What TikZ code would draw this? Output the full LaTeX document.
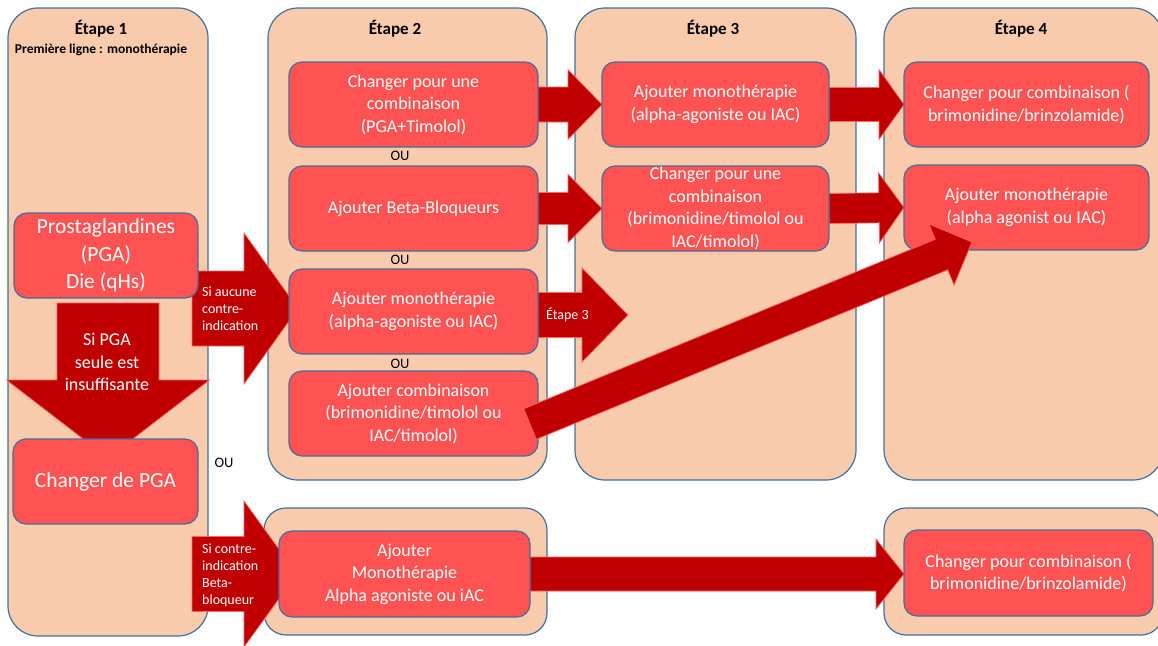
\documentclass[tikz,border=0pt]{standalone}
\usepackage{fontspec}
\setmainfont{Carlito}
\usetikzlibrary{calc}
\definecolor{contfill}{RGB}{248,203,173}
\definecolor{bordblue}{RGB}{65,113,156}
\definecolor{boxred}{RGB}{255,82,82}
\definecolor{arrred}{RGB}{192,0,0}
\definecolor{arredge}{RGB}{255,100,100}
\newcommand\blockarrow[5]{%
  \path #1 coordinate (ba-t) #2 coordinate (ba-h);
  \path ($(ba-h)!#5!(ba-t)$) coordinate (ba-b);
  \draw[barrow] ($(ba-t)!#3!90:(ba-h)$) -- ($(ba-b)!#3!90:(ba-h)$) -- ($(ba-b)!#4!90:(ba-h)$) -- (ba-h) -- ($(ba-b)!#4!-90:(ba-h)$) -- ($(ba-b)!#3!-90:(ba-h)$) -- ($(ba-t)!#3!-90:(ba-h)$) -- cycle;
}
\begin{document}
\begin{tikzpicture}[x=1pt,y=-1pt,
  cont/.style={draw=bordblue,line width=1.2pt,fill=contfill,rounded corners=30pt,inner sep=0pt},
  contb/.style={cont,rounded corners=22pt},
  rbox/.style={draw=bordblue,line width=1.2pt,fill=boxred,rounded corners=13pt,inner sep=0pt,
    text=white,align=center,font=\fontsize{18}{22.5}\selectfont},
  bigbox/.style={rbox,font=\fontsize{21.5}{27.5}\selectfont},
  barrow/.style={fill=arrred,draw=arredge,line width=0.7pt,line join=miter},
  ttl/.style={font=\bfseries\fontsize{17}{20}\selectfont,inner sep=0pt},
  subttl/.style={font=\bfseries\fontsize{13.5}{16}\selectfont,inner sep=0pt},
  oulbl/.style={font=\fontsize{14.5}{17}\selectfont,inner sep=0pt},
  lbl/.style={text=white,align=left,font=\fontsize{14}{17}\selectfont,inner sep=0pt,anchor=west},
  alab/.style={text=white,align=center,font=\fontsize{18}{22.5}\selectfont,inner sep=0pt}
]
\useasboundingbox (0,0) rectangle (1158,645);
\fill[white] (0,0) rectangle (1158,645);

% containers
\node[cont,minimum width=200pt,minimum height=628pt] (S1) at (108,322) {};
\node[cont,minimum width=279pt,minimum height=472pt] (S2) at (407.5,244) {};
\node[cont,minimum width=281pt,minimum height=472pt] (S3) at (715.5,244) {};
\node[cont,minimum width=279pt,minimum height=472pt] (S4) at (1023.5,244) {};
\node[contb,minimum width=283pt,minimum height=127pt] (S2b) at (405.5,571.5) {};
\node[contb,minimum width=279pt,minimum height=127pt] (S4b) at (1023.5,571.5) {};

% titles
\node[ttl] (T1) at (101,29) {Étape 1};
\node[subttl] (T1b) at (101,50) {Première ligne : monothérapie};
\node[ttl] (T2) at (395,29) {Étape 2};
\node[ttl] (T3) at (713,29) {Étape 3};
\node[ttl] (T4) at (1021,29) {Étape 4};

% coordinates for free ends
\coordinate (s1) at (192,308.5);
\coordinate (t1) at (298,308.5);
\coordinate (s2) at (192,574);
\coordinate (t2) at (297,574);
\coordinate (sd) at (108,303);
\coordinate (td) at (108,458);
\coordinate (t3) at (628,315);

% arrows behind boxes
\blockarrow{(sd)}{(td)}{51pt}{101.5pt}{78pt}
\blockarrow{(s1)}{(t1)}{37.5pt}{75.5pt}{54pt}
\blockarrow{(s2)}{(t2)}{37.5pt}{73pt}{53pt}
\blockarrow{(538,104.5)}{(602,104.5)}{17.5pt}{35pt}{34pt}
\blockarrow{(538,208.5)}{(602,208.5)}{16pt}{34pt}{34pt}
\blockarrow{(829,104.5)}{(904,104.5)}{17pt}{35pt}{25pt}
\blockarrow{(829,208.5)}{(904,207.5)}{15pt}{35pt}{25pt}
\blockarrow{(538,315)}{(t3)}{22.5pt}{47pt}{46pt}
\blockarrow{(530,574)}{(904,574)}{17pt}{35pt}{28pt}

% boxes
\node[bigbox,minimum width=184pt,minimum height=85pt] (P) at (106,255.5) {Prostaglandines\\(PGA)\\Die (qHs)};
\node[bigbox,minimum width=185pt,minimum height=85pt] (Q) at (105.5,481.5) {Changer de PGA};
\node[rbox,minimum width=249pt,minimum height=85pt] (A) at (413.5,104.5) {Changer pour une\\combinaison\\(PGA+Timolol)};
\node[rbox,minimum width=249pt,minimum height=85pt] (B) at (413.5,208.5) {Ajouter Beta-Bloqueurs};
\node[rbox,minimum width=249pt,minimum height=85pt] (C) at (413.5,311.5) {Ajouter monothérapie\\(alpha-agoniste ou IAC)};
\node[rbox,minimum width=249pt,minimum height=85pt] (D) at (413.5,413.5) {Ajouter combinaison\\(brimonidine/timolol ou\\IAC/timolol)};
\node[rbox,minimum width=227pt,minimum height=85pt] (E) at (715.5,104.5) {Ajouter monothérapie\\(alpha-agoniste ou IAC)};
\node[rbox,minimum width=227pt,minimum height=85pt] (F) at (715.5,208.5) {Changer pour une\\combinaison\\(brimonidine/timolol ou\\IAC/timolol)};
\node[rbox,minimum width=245pt,minimum height=85pt] (G) at (1026.5,104.5) {Changer pour combinaison (\\brimonidine/brinzolamide)};
\node[rbox,minimum width=245pt,minimum height=85pt] (H) at (1026.5,207.5) {Ajouter monothérapie\\(alpha agonist ou IAC)};
\node[rbox,minimum width=251pt,minimum height=86pt] (I) at (404.5,574) {Ajouter\\Monothérapie\\Alpha agoniste ou iAC};
\node[rbox,minimum width=249pt,minimum height=86pt] (J) at (1028.5,573) {Changer pour combinaison (\\brimonidine/brinzolamide)};

% OU labels
\node[oulbl] (ou1) at (400,156) {OU};
\node[oulbl] (ou2) at (400,260) {OU};
\node[oulbl] (ou3) at (400,364) {OU};
\node[oulbl] (ou4) at (224,463) {OU};

% arrow labels
\node[alab] (La) at (107,362) {Si PGA\\seule est\\insuffisante};
\node[lbl] (Lb) at (202,309) {Si aucune\\contre-\\indication};
\node[lbl] (Lc) at (202,575) {Si contre-\\indication\\Beta-\\bloqueur};
\node[lbl] (Ld) at (546,315) {Étape 3};

% diagonal arrow on top
\coordinate (sdiag) at (530,424);
\coordinate (tdiag) at (972,242);
\blockarrow{(sdiag)}{(tdiag)}{16.5pt}{33pt}{33pt}
\end{tikzpicture}
\end{document}
